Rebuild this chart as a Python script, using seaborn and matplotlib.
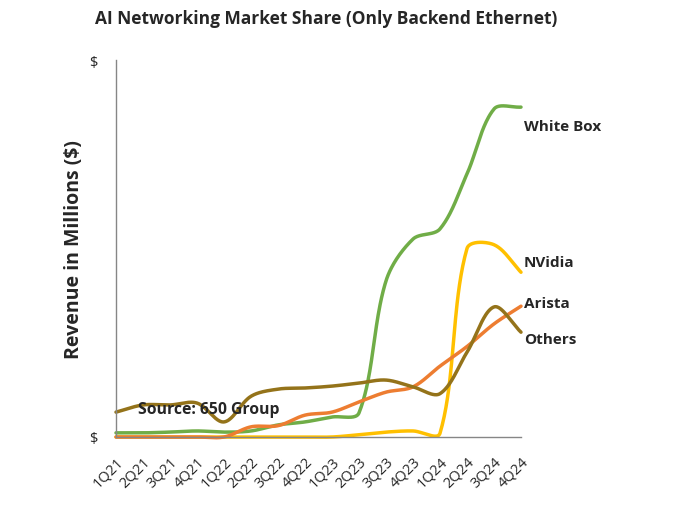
import numpy as np
import pandas as pd
import seaborn as sns
import matplotlib.pyplot as plt

quarters = ['1Q21', '2Q21', '3Q21', '4Q21', '1Q22', '2Q22', '3Q22', '4Q22',
            '1Q23', '2Q23', '3Q23', '4Q23', '1Q24', '2Q24', '3Q24', '4Q24']

white_box = [1.1, 1.1, 1.3, 1.6, 1.3, 1.6, 3.2, 4.0, 5.3, 6.4, 41.4, 52.5, 55.2, 69.8, 87.0, 87.5]
nvidia = [0.0, 0.0, 0.0, 0.0, 0.0, 0.0, 0.0, 0.0, 0.0, 0.6, 1.3, 1.6, 1.0, 50.0, 51.0, 43.7]
arista = [0.0, 0.0, 0.0, 0.0, 0.0, 2.7, 3.0, 5.8, 6.6, 9.3, 11.9, 13.3, 18.8, 24.0, 30.0, 34.7]
others = [6.6, 8.5, 8.5, 9.0, 4.0, 10.8, 12.7, 13.0, 13.5, 14.3, 15.1, 13.3, 11.5, 22.5, 34.5, 27.8]

series = {'White Box': white_box, 'NVidia': nvidia, 'Arista': arista, 'Others': others}
colors = {'White Box': '#70AD47', 'NVidia': '#FFC000', 'Arista': '#ED7D31', 'Others': '#94731A'}


def smooth(xs, ys, sx=27.0, sy=3.77, n=40):
    # smoothed line like office charts: bezier segments, control points
    # weighted by the on-screen length of the neighbouring segments
    p = np.column_stack([np.asarray(xs, float) * sx, np.asarray(ys, float) * sy])
    p = np.vstack([p[:1], p, p[-1:]])
    t = np.linspace(0, 1, n)[:, None]
    pts = []
    for i in range(1, len(p) - 2):
        p0, p1, p2, p3 = p[i - 1], p[i], p[i + 1], p[i + 2]
        d01 = np.hypot(*(p1 - p0))
        d12 = np.hypot(*(p2 - p1))
        d23 = np.hypot(*(p3 - p2))
        c1 = p1 + (p2 - p0) * (d12 / max(d01 + d12, 1e-9)) / 3
        c2 = p2 - (p3 - p1) * (d12 / max(d12 + d23, 1e-9)) / 3
        b = (1 - t)**3 * p1 + 3 * (1 - t)**2 * t * c1 + 3 * (1 - t) * t**2 * c2 + t**3 * p2
        pts.append(b)
    pts = np.vstack(pts)
    return pts[:, 0] / sx, pts[:, 1] / sy


sns.set_style('white')
plt.rcParams['font.family'] = ['Open Sans', 'DejaVu Sans']

fig = plt.figure(figsize=(6.8, 5.06), dpi=100)
ax = fig.add_axes([116 / 680, 1 - 438 / 506, 405 / 680, 377 / 506])

idx = np.arange(len(quarters))
for name, vals in series.items():
    cx, cy = smooth(idx, vals)
    df = pd.DataFrame({'x': cx, 'y': cy})
    sns.lineplot(data=df, x='x', y='y', ax=ax, color=colors[name], linewidth=2.5,
                 sort=False, estimator=None, clip_on=False)

ax.set_xlim(0, len(quarters) - 1)
ax.set_ylim(0, 100)
ax.set_xticks(idx)
ax.set_xticklabels(quarters, rotation=45, ha='right', rotation_mode='anchor',
                   fontsize=10.5, color='#262626')
ax.set_yticks([0, 100])
ax.set_yticklabels(['$', '$'], fontsize=10.5, color='#262626')
ax.set_xlabel('')
ax.set_ylabel('Revenue in Millions ($)', fontsize=14, fontweight='bold', labelpad=4)

for side in ['top', 'right']:
    ax.spines[side].set_visible(False)
for side in ['left', 'bottom']:
    ax.spines[side].set_color('#868686')
    ax.spines[side].set_linewidth(1)
ax.tick_params(axis='both', direction='out', length=5, color='#868686', width=1)
ax.tick_params(axis='x', pad=7)
ax.tick_params(axis='y', pad=8)

# series labels at the right end
label_y = {'White Box': 82.6, 'NVidia': 46.4, 'Arista': 35.6, 'Others': 26.0}
for name, yv in label_y.items():
    ax.text(len(quarters) - 1 + 0.1, yv, name, fontsize=11, fontweight='bold',
            va='center', ha='left', clip_on=False)

ax.text(0.8, 7.3, 'Source: 650 Group', fontsize=11.3, fontweight='bold', va='center')

fig.text(95 / 680, 1 - 19 / 506, 'AI Networking Market Share (Only Backend Ethernet)',
         fontsize=12.5, fontweight='bold', va='center', ha='left')

fig.savefig('out.png', dpi=100)
